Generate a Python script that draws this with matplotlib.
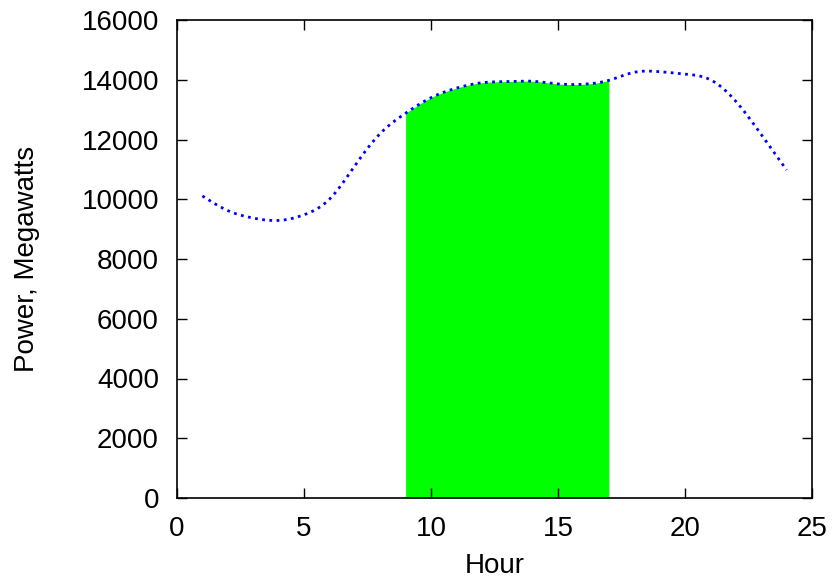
import matplotlib
matplotlib.use("Agg")
import matplotlib.pyplot as plt
import numpy as np

plt.rcParams["font.family"] = ["Liberation Sans", "DejaVu Sans"]

hours = [1, 2, 3, 4, 5, 6, 7, 8, 9, 10, 11, 12,
         13, 14, 15, 16, 17, 18, 19, 20, 21, 22, 23, 24]
power = [10110, 9620, 9370, 9290, 9480, 10000, 11120, 12200, 12880, 13400, 13720, 13900,
         13940, 13950, 13860, 13850, 13980, 14250, 14270, 14190, 14000, 13280, 12170, 10980]
peak_start = 9
peak_end = 17


def natural_spline(x, y, xs):
    # natural cubic spline, like gnuplot's "smooth csplines"
    x = np.asarray(x, float)
    y = np.asarray(y, float)
    n = len(x)
    h = np.diff(x)
    A = np.zeros((n, n))
    b = np.zeros(n)
    A[0, 0] = A[-1, -1] = 1
    for i in range(1, n - 1):
        A[i, i - 1] = h[i - 1]
        A[i, i] = 2 * (h[i - 1] + h[i])
        A[i, i + 1] = h[i]
        b[i] = 3 * ((y[i + 1] - y[i]) / h[i] - (y[i] - y[i - 1]) / h[i - 1])
    c = np.linalg.solve(A, b)
    idx = np.clip(np.searchsorted(x, xs) - 1, 0, n - 2)
    dx = xs - x[idx]
    bb = (y[idx + 1] - y[idx]) / h[idx] - h[idx] * (2 * c[idx] + c[idx + 1]) / 3
    dd = (c[idx + 1] - c[idx]) / (3 * h[idx])
    return y[idx] + bb * dx + c[idx] * dx ** 2 + dd * dx ** 3


xs = np.linspace(hours[0], hours[-1], 600)
ys = natural_spline(hours, power, xs)

fig = plt.figure(figsize=(8.36, 5.82), dpi=100)
ax = fig.add_axes([177 / 836, 1 - 498 / 582, 635 / 836, 478 / 582])

xf = np.linspace(peak_start, peak_end, 300)
ax.fill_between(xf, 0, natural_spline(hours, power, xf), color="#00ff00", lw=0)
ax.plot(xs, ys, color="blue", lw=2, linestyle=(0, (1, 1.6)))

ax.set_xlim(0, 25)
ax.set_ylim(0, 16000)
ax.set_xticks(range(0, 26, 5))
ax.set_yticks(range(0, 16001, 2000))
ax.tick_params(direction="in", length=7, width=1, top=True, right=True,
               labelsize=20, pad=13)
for s in ax.spines.values():
    s.set_linewidth(1.2)
ax.set_xlabel("Hour", fontsize=20, labelpad=8)
ax.set_ylabel("Power, Megawatts", fontsize=20, labelpad=30)

fig.savefig("out.png", dpi=100)
